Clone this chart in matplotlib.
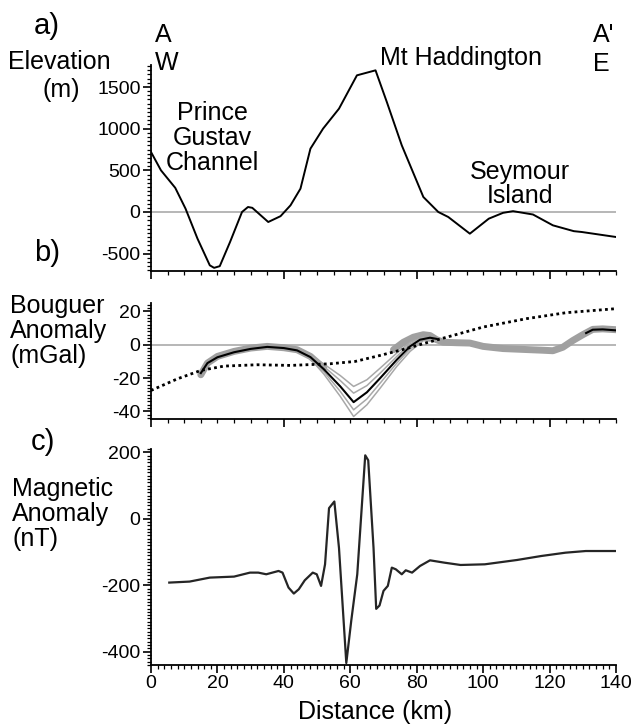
import matplotlib
matplotlib.use("Agg")
import matplotlib.pyplot as plt
from matplotlib.ticker import MultipleLocator

plt.rcParams["font.family"] = ["Liberation Sans", "DejaVu Sans"]
plt.rcParams["axes.unicode_minus"] = False

# ── a) elevation profile ─────────────────────────────────────────────
elev_km = [0, 3, 7.3, 10.4, 14, 17.7, 19, 20.7, 23.8, 27.4, 29.2, 30.5, 35.3, 39, 42, 45, 48,
           51.8, 56.6, 62, 67.6, 71, 75.5, 82, 86.5, 89.5, 96, 101.7, 106, 109, 115, 121,
           127.3, 129.7, 140]
elev_m = [720, 500, 290, 40, -320, -640, -670, -650, -360, 0, 60, 50, -120, -50, 80, 280, 760,
          1000, 1240, 1640, 1700, 1320, 800, 180, 0, -60, -260, -80, -10, 10, -30, -160,
          -230, -240, -300]

# ── b) Bouguer anomaly ───────────────────────────────────────────────
obs1_km = [15, 17, 20, 25, 30, 35, 40, 44, 48, 52]
obs1_mgal = [-18, -11, -7, -4, -2, -1, -1.8, -3, -7, -14]
obs2_km = [73, 76, 79, 82, 84, 86, 88, 92, 96, 100, 106, 112, 118, 121, 124, 127, 130, 133, 136, 140]
obs2_mgal = [-3, 1.5, 4.5, 6, 5.5, 3, 1.5, 1.2, 1, -1, -2.3, -2.8, -3.3, -3.6, -1.5, 2.5, 6, 9.2, 9.5, 9]

model1_km = [15, 17, 20, 25, 30, 35, 40, 44, 48, 52, 57, 61, 65, 69, 74, 78, 81, 84, 86]
model1_mgal = [-17, -11, -7.5, -4.5, -2.5, -1.3, -2, -3.4, -7.4, -14.6, -25, -34.4, -28.5, -20,
               -9, -1, 3, 4.2, 3.5]
model2_km = [131, 133, 136, 140]
model2_mgal = [7, 9, 9.2, 8.6]

alt_km = [44, 48, 52, 57, 61, 65, 69, 74, 78, 82, 86]
alt_a = [-3.4, -6.5, -11.5, -18.5, -25, -21, -14, -5, 1.5, 4.5, 2.5]
alt_b = [-3.4, -7, -13, -21.5, -29, -24.5, -17, -7, 0.5, 4, 2.3]
alt_c = [-3.4, -8, -16, -28, -39, -32.5, -23, -11, -2.5, 3, 2]
alt_d = [-3.4, -8.5, -17.5, -31, -43, -36, -26, -13, -4, 2.5, 2]

reg_km = [0, 8, 15, 22, 32, 42, 54, 61.5, 69, 76, 83, 91, 100, 113, 125, 140]
reg_mgal = [-27.4, -20.4, -15.4, -12.8, -12, -12.4, -11.4, -10, -6.4, -2.8, 1.2, 5.6, 10.6,
            15.6, 19.2, 21.6]

# ── c) magnetic anomaly ──────────────────────────────────────────────
mag_km = [5.5, 11.6, 17.7, 25, 29.8, 32.3, 34.7, 38.4, 39.6, 41.4, 43, 44.5, 46.3, 48.7, 49.9,
          51.2, 52.4, 53.6, 55.2, 56.6, 58.8, 60.3, 62.1, 63.7, 64.5, 65.4, 67, 67.8, 68.8, 70,
          71.3, 72.5, 73.7, 75.5, 76.7, 78.6, 81, 84, 88.3, 93.2, 100.5, 110.2, 117.5, 124.8,
          130.9, 140]
mag_nt = [-192, -189, -177, -174, -162, -162, -167, -157, -162, -207, -225, -212, -185, -162,
          -167, -202, -137, 32, 52, -88, -434, -306, -167, 72, 191, 176, -88, -271, -261, -217,
          -202, -147, -152, -167, -155, -162, -142, -125, -132, -139, -137, -124, -112, -102,
          -97, -97]

W, H = 631, 726
fig = plt.figure(figsize=(W / 100, H / 100), dpi=100)


def box(top, bottom, left=151, right=616):
    return [left / W, 1 - bottom / H, (right - left) / W, (bottom - top) / H]


def px(x, y):
    return x / W, 1 - y / H


def style(ax, xmaj, xmin, ymaj, ymin, xlabels=False):
    for s in ("top", "right"):
        ax.spines[s].set_visible(False)
    for s in ("left", "bottom"):
        ax.spines[s].set_linewidth(1.3)
    ax.xaxis.set_major_locator(MultipleLocator(xmaj))
    ax.xaxis.set_minor_locator(MultipleLocator(xmin))
    ax.yaxis.set_major_locator(MultipleLocator(ymaj))
    ax.yaxis.set_minor_locator(MultipleLocator(ymin))
    ax.tick_params(which="major", direction="out", length=5.5, width=1.2, labelsize=14, pad=2)
    ax.tick_params(which="minor", direction="out", length=3, width=0.9)
    if not xlabels:
        ax.tick_params(axis="x", labelbottom=False)
    ax.set_xlim(0, 140)


ax1 = fig.add_axes(box(65, 271))
ax1.axhline(0, color="#aaaaaa", lw=1.2)
ax1.plot(elev_km, elev_m, color="black", lw=1.4)
ax1.set_ylim(-708, 1764)
style(ax1, 40, 5, 500, 50)

ax2 = fig.add_axes(box(303, 419))
ax2.axhline(0, color="#aaaaaa", lw=1.2)
ax2.plot(obs1_km, obs1_mgal, color="#a0a0a0", lw=5, solid_capstyle="round")
ax2.plot(obs2_km, obs2_mgal, color="#a0a0a0", lw=5, solid_capstyle="round")
for alt in (alt_a, alt_b, alt_c, alt_d):
    ax2.plot(alt_km, alt, color="#a8a8a8", lw=1.1)
ax2.plot(model1_km, model1_mgal, color="black", lw=1.5)
ax2.plot(model2_km, model2_mgal, color="black", lw=1.5)
ax2.plot(reg_km, reg_mgal, color="black", lw=2, linestyle=(0, (1, 1.2)))
ax2.set_ylim(-44.5, 25)
style(ax2, 40, 5, 20, 2)

ax3 = fig.add_axes(box(449, 665))
ax3.plot(mag_km, mag_nt, color="#252525", lw=1.6)
ax3.set_ylim(-440, 210)
style(ax3, 20, 2, 200, 10, xlabels=True)

# labels placed as in the figure
fig.text(*px(47, 26), "a)", fontsize=21, ha="center", va="center")
fig.text(*px(47, 253), "b)", fontsize=21, ha="center", va="center")
fig.text(*px(43, 442), "c)", fontsize=21, ha="center", va="center")

fig.text(*px(8, 62), "Elevation", fontsize=18, ha="left", va="center")
fig.text(*px(80, 90), "(m)", fontsize=18, ha="right", va="center")
fig.text(*px(10, 331), "Bouguer\nAnomaly\n(mGal)", fontsize=18, ha="left", va="center",
         linespacing=1.05)
fig.text(*px(12, 514), "Magnetic\nAnomaly\n(nT)", fontsize=18, ha="left", va="center",
         linespacing=1.05)

fig.text(*px(155, 35), "A", fontsize=18, ha="left", va="center")
fig.text(*px(155, 63), "W", fontsize=18, ha="left", va="center")
fig.text(*px(593, 35), "A'", fontsize=18, ha="left", va="center")
fig.text(*px(593, 64), "E", fontsize=18, ha="left", va="center")
fig.text(*px(380, 58), "Mt Haddington", fontsize=18, ha="left", va="center")
fig.text(*px(212, 138), "Prince\nGustav\nChannel", fontsize=18, ha="center", va="center",
         linespacing=1.05)
fig.text(*px(520, 184), "Seymour\nIsland", fontsize=18, ha="center", va="center",
         linespacing=1.05)
fig.text(*px(375, 712), "Distance (km)", fontsize=18, ha="center", va="center")

fig.savefig("out.png", dpi=100)
